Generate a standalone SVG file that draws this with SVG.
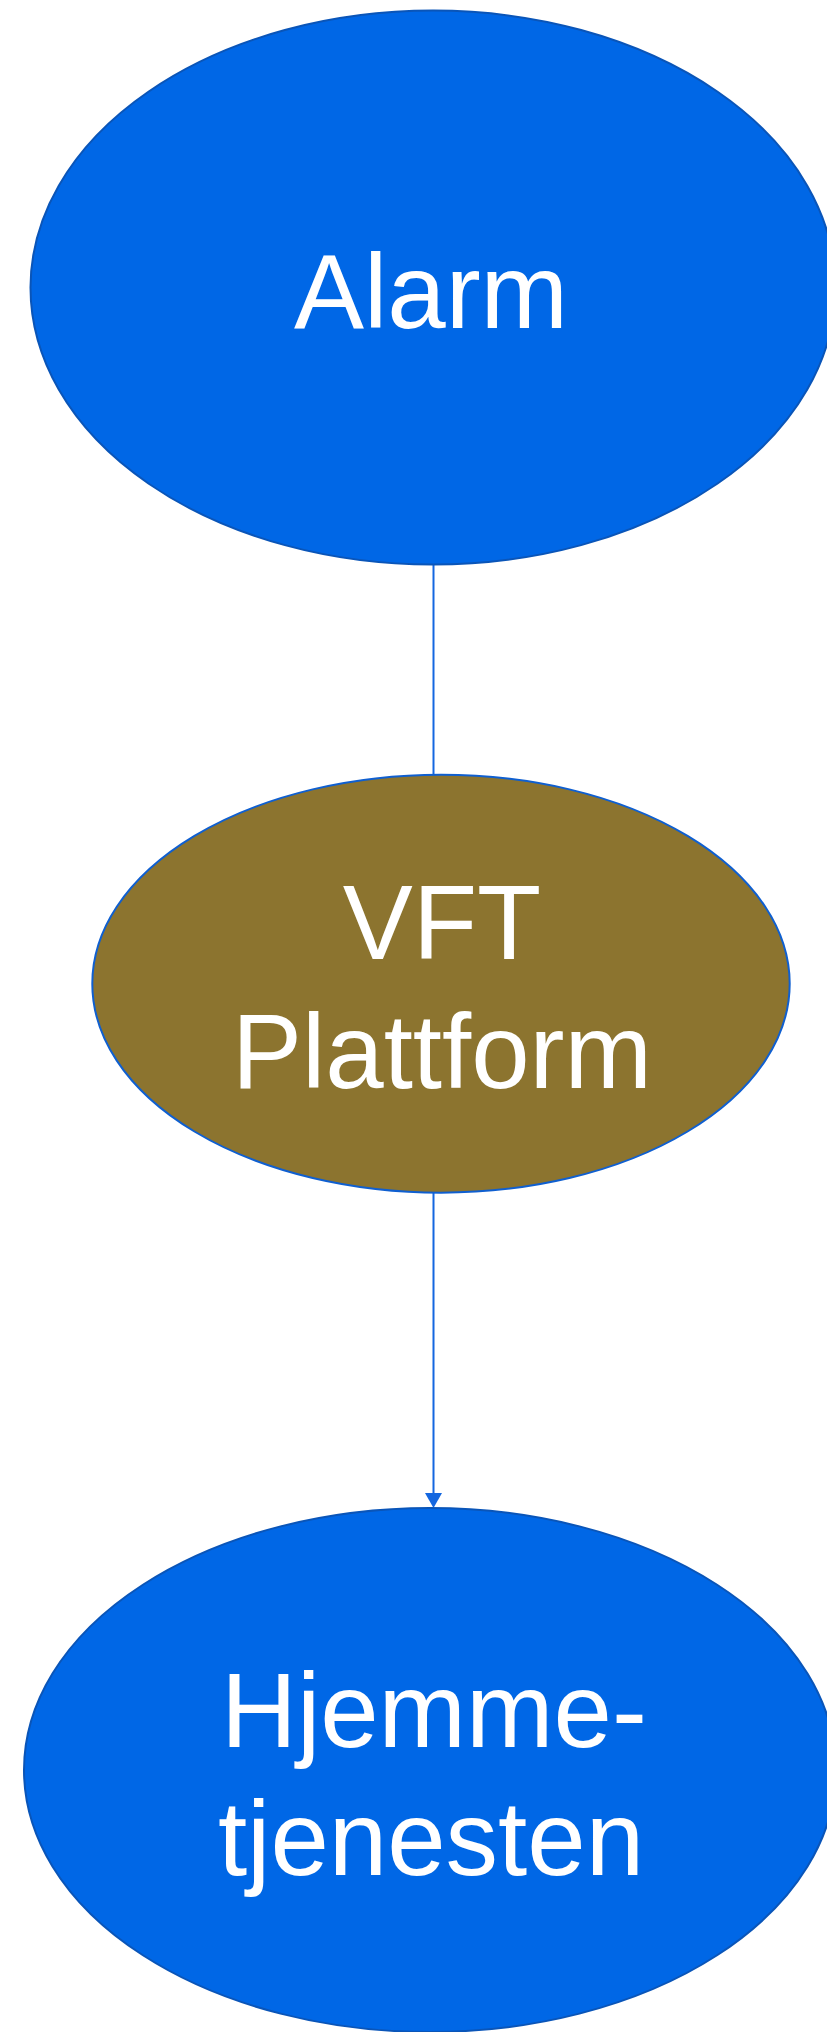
<svg xmlns="http://www.w3.org/2000/svg" width="827" height="2032" viewBox="0 0 827 2032">
<style>
.lbl{font-family:"Liberation Sans",Arial,sans-serif;font-size:105px;fill:#ffffff;text-anchor:middle}
.blue{fill:#0067E6;stroke:#0A55B8;stroke-width:2}
.gold{fill:#8C742F;stroke:#0F5FD0;stroke-width:2}
.conn{stroke:#1467E0;stroke-width:2;fill:none}
</style>
<g id="connectors">
<line class="conn" x1="433.5" y1="564" x2="433.5" y2="775"/>
<line class="conn" x1="433.5" y1="1193" x2="433.5" y2="1493"/>
<path d="M425,1493 L442,1493 L433.5,1508 Z" fill="#1467E0"/>
</g>
<g id="alarm">
<ellipse class="blue" cx="433" cy="287.6" rx="402.5" ry="277"/>
<text class="lbl" x="431" y="327.6">Alarm</text>
</g>
<g id="vft">
<ellipse class="gold" cx="441" cy="983.7" rx="348.7" ry="209"/>
<text class="lbl" x="442" y="959.4">VFT</text>
<text class="lbl" x="442" y="1088">Plattform</text>
</g>
<g id="hjemme">
<ellipse class="blue" cx="430" cy="1770" rx="406" ry="262"/>
<text class="lbl" x="434" y="1747">Hjemme-</text>
<text class="lbl" x="431" y="1875">tjenesten</text>
</g>
</svg>
